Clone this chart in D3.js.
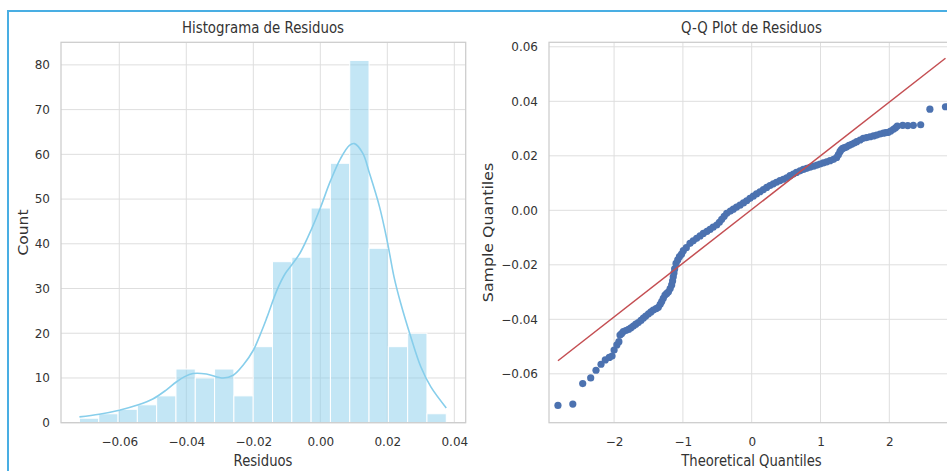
<!DOCTYPE html>
<html>
<head>
<meta charset="utf-8">
<script src="https://cdn.jsdelivr.net/npm/d3@7"></script>
<style>
  body { margin: 0; background: #fff; }
  text { font-family: "DejaVu Sans", sans-serif; fill: #333; }
</style>
</head>
<body>
<div id="canvas"></div>
<script>
// histogram of residuals
var histCounts = [1, 2, 3, 4, 6, 12, 10, 12, 6, 17, 36, 37, 48, 58, 81, 39, 17, 20, 2];
var histMin = -0.0719,
  histMax = 0.0376;
var kdeX = [-0.0719, -0.066, -0.06, -0.0543, -0.05, -0.046, -0.043, -0.0405, -0.038, -0.034,
  -0.029, -0.026, -0.023, -0.02, -0.0175, -0.0159, -0.0129, -0.0105, -0.0085, -0.006,
  -0.0025, 0.0, 0.003, 0.006, 0.0087, 0.0102, 0.0127, 0.0147, 0.0177, 0.02,
  0.022, 0.024, 0.027, 0.03, 0.033, 0.0376];
var kdeY = [1.3, 1.9, 2.8, 4.0, 5.3, 7.3, 9.1, 10.3, 11.0, 10.9,
  10.0, 10.6, 12.9, 16.2, 20.5, 23.6, 29.7, 33.3, 35.3, 38,
  43.5, 48, 54, 59, 62, 62.4, 60.2, 55.7, 48.2, 40.5,
  32.6, 26.7, 19.2, 12.5, 8.0, 3.3];
var histXTicks = [-0.06, -0.04, -0.02, 0.0, 0.02, 0.04];
var histYTicks = [0, 10, 20, 30, 40, 50, 60, 70, 80];

// q-q plot (theoretical quantile, sample quantile)
var qqTheo = [-2.816, -2.6, -2.456, -2.34, -2.263, -2.19, -2.128, -2.07, -2.03, -2.0,
  -1.96, -1.93, -1.914, -1.89, -1.866, -1.83, -1.79, -1.755, -1.72, -1.685,
  -1.648, -1.61, -1.575, -1.54, -1.5, -1.465, -1.43, -1.39, -1.357, -1.33,
  -1.308, -1.285, -1.26, -1.235, -1.21, -1.185, -1.163, -1.15, -1.14, -1.13,
  -1.12, -1.1, -1.075, -1.05, -1.02, -0.994, -0.95, -0.897, -0.85, -0.8,
  -0.75, -0.703, -0.65, -0.606, -0.56, -0.509, -0.47, -0.436, -0.4, -0.363,
  -0.31, -0.267, -0.22, -0.17, -0.12, -0.073, -0.025, 0.023, 0.07, 0.12,
  0.17, 0.218, 0.265, 0.314, 0.36, 0.411, 0.46, 0.509, 0.557, 0.605,
  0.65, 0.702, 0.75, 0.8, 0.847, 0.9, 0.95, 0.993, 1.04, 1.09,
  1.138, 1.19, 1.235, 1.26, 1.283, 1.3, 1.322, 1.35, 1.38, 1.415,
  1.453, 1.49, 1.526, 1.575, 1.622, 1.67, 1.72, 1.77, 1.817, 1.865,
  1.913, 1.95, 1.986, 2.02, 2.06, 2.09, 2.116, 2.195, 2.268, 2.349,
  2.456, 2.59, 2.816];
var qqSample = [-0.0716, -0.0711, -0.0636, -0.0615, -0.0587, -0.0565, -0.0549, -0.054, -0.0535, -0.0513,
  -0.0494, -0.0482, -0.0458, -0.0452, -0.0445, -0.0441, -0.0437, -0.0431, -0.0425, -0.0418,
  -0.0412, -0.0404, -0.0396, -0.0388, -0.038, -0.0373, -0.0366, -0.0361, -0.0356, -0.0345,
  -0.0335, -0.0323, -0.0311, -0.0305, -0.0299, -0.0287, -0.0274, -0.0259, -0.0244, -0.023,
  -0.0215, -0.0195, -0.0182, -0.017, -0.0161, -0.0148, -0.0137, -0.0121, -0.0112, -0.0103,
  -0.0094, -0.0085, -0.0077, -0.007, -0.0062, -0.0054, -0.0044, -0.0033, -0.0022, -0.0011,
  -0.0003, 0.0004, 0.0012, 0.0019, 0.0027, 0.0035, 0.0044, 0.0052, 0.006, 0.0068,
  0.0076, 0.0084, 0.0091, 0.0097, 0.0103, 0.0109, 0.0114, 0.0119, 0.0127, 0.0133,
  0.0139, 0.0145, 0.015, 0.0154, 0.0158, 0.0162, 0.0166, 0.017, 0.0174, 0.0178,
  0.0182, 0.0187, 0.0194, 0.0204, 0.0215, 0.0222, 0.0227, 0.023, 0.0233, 0.0238,
  0.0242, 0.0247, 0.0252, 0.0258, 0.0264, 0.0267, 0.027, 0.0273, 0.0276, 0.028,
  0.0283, 0.0285, 0.0286, 0.0291, 0.0297, 0.0303, 0.0309, 0.0312, 0.0311, 0.0312,
  0.0314, 0.0371, 0.038];
var qqLineX = [-2.816, 2.816];
var qqLineY = [-0.0552, 0.0558];
var qqXTicks = [-2, -1, 0, 1, 2];
var qqYTicks = [-0.06, -0.04, -0.02, 0.0, 0.02, 0.04, 0.06];

var width = 947,
  height = 471;

var svg = d3
  .select("#canvas")
  .append("svg")
  .attr("width", width)
  .attr("height", height);

// frame around the figure
svg
  .append("path")
  .attr("d", "M8," + height + "V11H" + width)
  .attr("fill", "none")
  .attr("stroke", "#49aee3")
  .attr("stroke-width", 2);

function addText(txt, x, y, rot, opts) {
  var sq = opts.squash || 1;
  var tr = "translate(" + x + "," + y + ")";
  if (rot) tr += " rotate(" + rot + ") scale(1," + sq + ")";
  else tr += " scale(" + sq + ",1)";
  svg
    .append("text")
    .attr("transform", tr)
    .attr("text-anchor", "middle")
    .style("font-size", opts.size + "px")
    .text(txt);
}

function drawFrame(g, x, y, xTicks, yTicks, xFmt, yFmt) {
  var x0 = x.range()[0],
    x1 = x.range()[1],
    y0 = y.range()[0],
    y1 = y.range()[1];

  g.append("g")
    .selectAll("line")
    .data(xTicks)
    .enter()
    .append("line")
    .attr("x1", d => x(d))
    .attr("x2", d => x(d))
    .attr("y1", y0)
    .attr("y2", y1)
    .attr("stroke", "#dedede")
    .attr("stroke-width", 1);

  g.append("g")
    .selectAll("line")
    .data(yTicks)
    .enter()
    .append("line")
    .attr("x1", x0)
    .attr("x2", x1)
    .attr("y1", d => y(d))
    .attr("y2", d => y(d))
    .attr("stroke", "#dedede")
    .attr("stroke-width", 1);

  var ax = g
    .append("g")
    .attr("transform", "translate(0," + y0 + ")")
    .call(d3.axisBottom(x).tickValues(xTicks).tickFormat(xFmt).tickSize(0).tickPadding(15));
  var ay = g
    .append("g")
    .attr("transform", "translate(" + x0 + ",0)")
    .call(d3.axisLeft(y).tickValues(yTicks).tickFormat(yFmt).tickSize(0).tickPadding(11));
  [ax, ay].forEach(function(a) {
    a.select(".domain").remove();
    a.selectAll("text")
      .style("font-size", "12px")
      .style("font-family", '"DejaVu Sans", sans-serif')
      .attr("fill", "#333");
  });
}

function drawSpines(g, x, y) {
  g.append("rect")
    .attr("x", x.range()[0])
    .attr("y", y.range()[1])
    .attr("width", x.range()[1] - x.range()[0])
    .attr("height", y.range()[0] - y.range()[1])
    .attr("fill", "none")
    .attr("stroke", "#cccccc")
    .attr("stroke-width", 1.25);
}

// ---- left: histogram
var hx = d3.scaleLinear().domain([-0.0774, 0.0434]).range([61, 465.7]);
var hy = d3.scaleLinear().domain([0, 85.05]).range([422.7, 42.3]);
var gH = svg.append("g");
drawFrame(gH, hx, hy, histXTicks, histYTicks, d3.format(".2f"), d3.format("d"));

var binW = (histMax - histMin) / histCounts.length;
gH.append("g")
  .selectAll("rect")
  .data(histCounts)
  .enter()
  .append("rect")
  .attr("x", (d, i) => hx(histMin + i * binW))
  .attr("width", (d, i) => hx(histMin + (i + 1) * binW) - hx(histMin + i * binW))
  .attr("y", d => hy(d))
  .attr("height", d => hy(0) - hy(d))
  .attr("fill", "#87ceeb")
  .attr("fill-opacity", 0.5)
  .attr("stroke", "#fff")
  .attr("stroke-width", 1);

var kdeLine = d3
  .line()
  .x(d => hx(d[0]))
  .y(d => hy(d[1]))
  .curve(d3.curveCatmullRom);
gH.append("path")
  .attr("d", kdeLine(d3.zip(kdeX, kdeY)))
  .attr("fill", "none")
  .attr("stroke", "#87ceeb")
  .attr("stroke-width", 1.6);
drawSpines(gH, hx, hy);

// ---- right: q-q plot
var qx = d3.scaleLinear().domain([-2.946, 2.946]).range([549, 954.4]);
var qy = d3.scaleLinear().domain([-0.07794, 0.06165]).range([422.7, 42.3]);
var gQ = svg.append("g");
drawFrame(gQ, qx, qy, qqXTicks, qqYTicks, d3.format("d"), d3.format(".2f"));

gQ.append("g")
  .selectAll("circle")
  .data(d3.zip(qqTheo, qqSample))
  .enter()
  .append("circle")
  .attr("cx", d => qx(d[0]))
  .attr("cy", d => qy(d[1]))
  .attr("r", 3.6)
  .attr("fill", "#4c72b0");

gQ.append("path")
  .attr("d", d3.line().x(d => qx(d[0])).y(d => qy(d[1]))(d3.zip(qqLineX, qqLineY)))
  .attr("stroke", "#c44e52")
  .attr("stroke-width", 1.5);
drawSpines(gQ, qx, qy);

// ---- titles and labels
addText("Histograma de Residuos", 263, 33, 0, { size: 15, squash: 0.89 });
addText("Q-Q Plot de Residuos", 751.5, 33, 0, { size: 15, squash: 0.89 });
addText("Residuos", 263, 466, 0, { size: 15, squash: 0.88 });
addText("Theoretical Quantiles", 751.5, 466, 0, { size: 15, squash: 0.88 });
addText("Count", 28, 232.5, -90, { size: 15.5, squash: 0.85 });
addText("Sample Quantiles", 493, 232.5, -90, { size: 15.8, squash: 0.85 });
</script>
</body>
</html>
